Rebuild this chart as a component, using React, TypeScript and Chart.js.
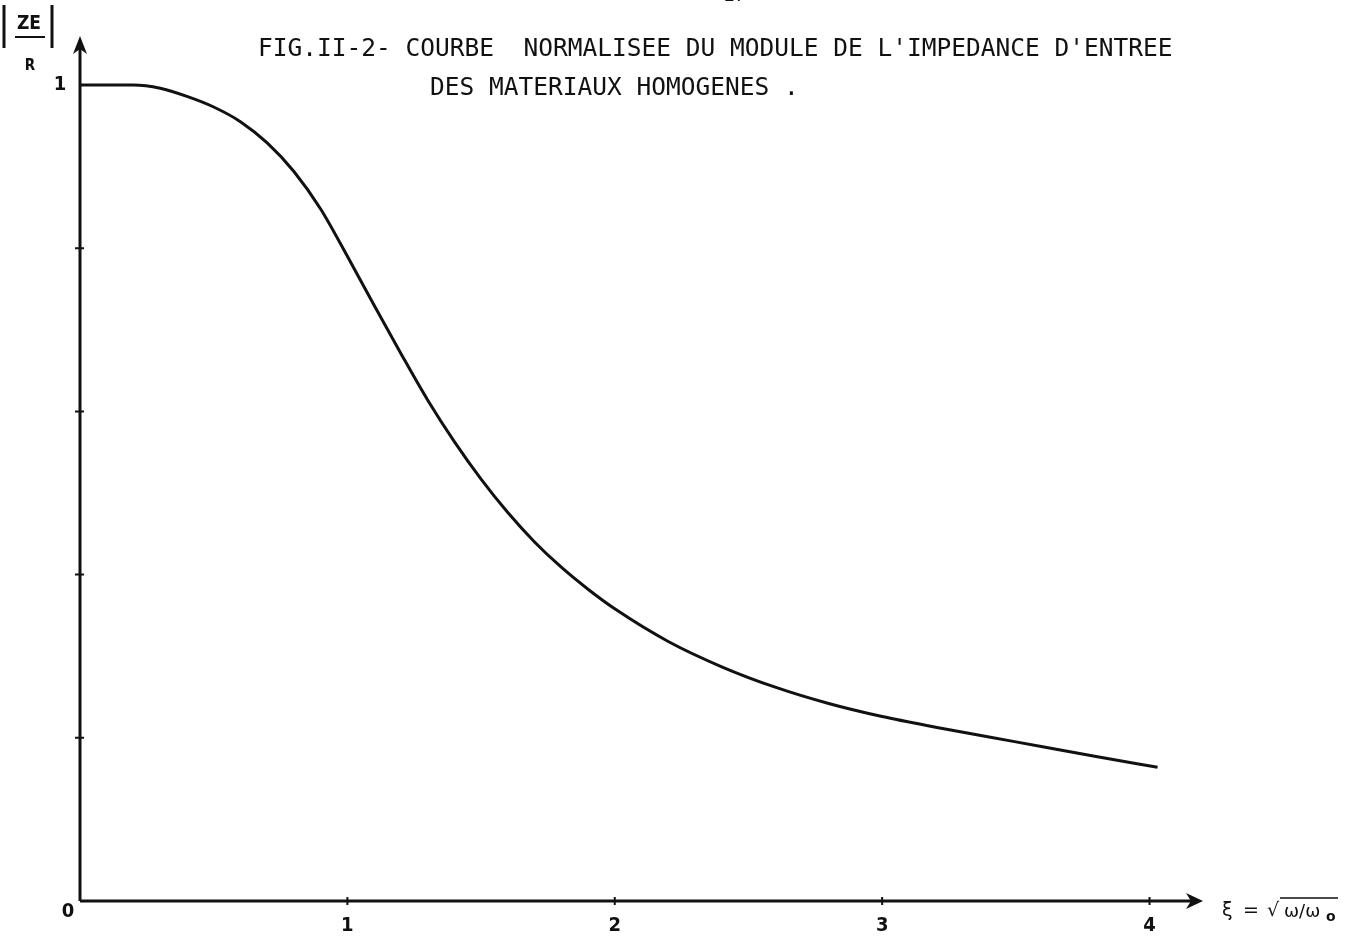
import React, { useEffect, useRef } from "react";
import { Chart, registerables } from "chart.js";

Chart.register(...registerables);

// ---- data ----
const xiValues = [0, 0.2, 0.3, 0.4, 0.5, 0.6, 0.7, 0.8, 0.9, 1.0, 1.1, 1.2, 1.3, 1.4, 1.5, 1.6, 1.7, 1.8, 1.9, 2.0, 2.2, 2.4, 2.6, 2.8, 3.0, 3.2, 3.4, 3.6, 3.8, 4.03];
const zeOverR = [1.0, 1.0, 0.996, 0.986, 0.973, 0.955, 0.929, 0.894, 0.848, 0.79, 0.73, 0.671, 0.614, 0.563, 0.517, 0.476, 0.44, 0.409, 0.382, 0.358, 0.318, 0.287, 0.262, 0.242, 0.226, 0.213, 0.201, 0.189, 0.177, 0.164];
const xTickValues = [1, 2, 3, 4];
const xTickLabels = ["1", "2", "3", "4"];
const yMinorTicks = [0.2, 0.4, 0.6, 0.8];
const titleLine1 = "FIG.II-2- COURBE  NORMALISEE DU MODULE DE L'IMPEDANCE D'ENTREE";
const titleLine2 = "DES MATERIAUX HOMOGENES .";

const INK = "#111111";

const drawPlugin = {
  id: "paperAxes",
  afterDraw(chart: any) {
    const { ctx } = chart;
    const xs = chart.scales.x;
    const ys = chart.scales.y;
    const x0 = xs.getPixelForValue(0);
    const y0 = ys.getPixelForValue(0);
    const xEnd = xs.right;
    const yTop = ys.top;
    ctx.save();
    ctx.strokeStyle = INK;
    ctx.fillStyle = INK;
    ctx.lineCap = "butt";

    // axes
    ctx.lineWidth = 3;
    ctx.beginPath();
    ctx.moveTo(x0, y0);
    ctx.lineTo(xEnd - 8, y0);
    ctx.moveTo(x0, y0);
    ctx.lineTo(x0, yTop + 8);
    ctx.stroke();

    // arrow heads
    ctx.beginPath();
    ctx.moveTo(xEnd, y0);
    ctx.lineTo(xEnd - 17, y0 - 8);
    ctx.lineTo(xEnd - 12, y0);
    ctx.lineTo(xEnd - 17, y0 + 8);
    ctx.closePath();
    ctx.fill();
    ctx.beginPath();
    ctx.moveTo(x0, yTop);
    ctx.lineTo(x0 - 7, yTop + 18);
    ctx.lineTo(x0, yTop + 13);
    ctx.lineTo(x0 + 7, yTop + 18);
    ctx.closePath();
    ctx.fill();

    // tick marks
    ctx.lineWidth = 2;
    ctx.beginPath();
    xTickValues.forEach((v) => {
      const px = xs.getPixelForValue(v);
      ctx.moveTo(px, y0 - 4);
      ctx.lineTo(px, y0 + 4);
    });
    yMinorTicks.forEach((v) => {
      const py = ys.getPixelForValue(v);
      ctx.moveTo(x0 - 5, py);
      ctx.lineTo(x0 + 4, py);
    });
    ctx.stroke();

    // tick labels
    ctx.font = "bold 20px 'DejaVu Sans Condensed', 'DejaVu Sans'";
    ctx.textAlign = "center";
    ctx.textBaseline = "middle";
    xTickValues.forEach((v, i) => {
      ctx.fillText(xTickLabels[i], xs.getPixelForValue(v), y0 + 25);
    });
    ctx.fillText("0", x0 - 12, y0 + 11);
    ctx.fillText("1", x0 - 20, ys.getPixelForValue(1));

    // y axis label |ZE / R|
    ctx.lineWidth = 3;
    ctx.beginPath();
    ctx.moveTo(4, 5);
    ctx.lineTo(4, 48);
    ctx.moveTo(52, 5);
    ctx.lineTo(52, 48);
    ctx.stroke();
    ctx.font = "bold 19px 'DejaVu Sans Condensed', 'DejaVu Sans'";
    ctx.fillText("ZE", 29, 24);
    ctx.lineWidth = 2;
    ctx.beginPath();
    ctx.moveTo(15, 37);
    ctx.lineTo(45, 37);
    ctx.stroke();
    ctx.font = "bold 15px 'DejaVu Sans Condensed', 'DejaVu Sans'";
    ctx.fillText("R", 30, 66);

    // x axis label  ξ = √(ω/ω0)
    ctx.font = "19px 'DejaVu Sans'";
    ctx.textAlign = "left";
    ctx.fillText("ξ", 1222, y0 + 10);
    ctx.fillText("=", 1243, y0 + 10);
    ctx.fillText("√", 1267, y0 + 10);
    ctx.font = "18px 'DejaVu Sans'";
    ctx.fillText("ω/ω", 1284, y0 + 11);
    ctx.font = "bold 14px 'DejaVu Sans'";
    ctx.fillText("o", 1326, y0 + 16);
    ctx.lineWidth = 1.5;
    ctx.beginPath();
    ctx.moveTo(1280, y0 - 3);
    ctx.lineTo(1338, y0 - 3);
    ctx.stroke();

    // title
    ctx.font = "24.5px 'DejaVu Sans Mono'";
    ctx.textAlign = "left";
    ctx.textBaseline = "middle";
    ctx.fillText(titleLine1, 258, 50);
    ctx.fillText(titleLine2, 430, 89);

    // page number cut at the top
    ctx.font = "18px 'DejaVu Sans Mono'";
    ctx.fillText("27", 724, -4);

    ctx.restore();
  },
};

export default function App() {
  const canvasRef = useRef<HTMLCanvasElement | null>(null);

  useEffect(() => {
    const canvas = canvasRef.current;
    if (!canvas) return;
    const points = xiValues.map((x, i) => ({ x, y: zeOverR[i] }));
    const chart = new Chart(canvas, {
      type: "line",
      data: {
        datasets: [
          {
            data: points,
            borderColor: INK,
            borderWidth: 3,
            pointRadius: 0,
            fill: false,
            cubicInterpolationMode: "monotone",
          },
        ],
      },
      options: {
        responsive: false,
        animation: false,
        layout: { padding: { left: 80, right: 153, top: 36, bottom: 42 } },
        plugins: {
          legend: { display: false },
          tooltip: { enabled: false },
          title: { display: false },
        },
        scales: {
          x: { type: "linear", min: 0, max: 4.2, display: false },
          y: { type: "linear", min: 0, max: 1.06, display: false },
        },
      },
      plugins: [drawPlugin],
    });
    return () => chart.destroy();
  }, []);

  return (
    <div style={{ position: "fixed", left: 0, top: 0, width: 1356, height: 943, background: "#fff" }}>
      <canvas ref={canvasRef} width={1356} height={943} style={{ display: "block" }} />
    </div>
  );
}
